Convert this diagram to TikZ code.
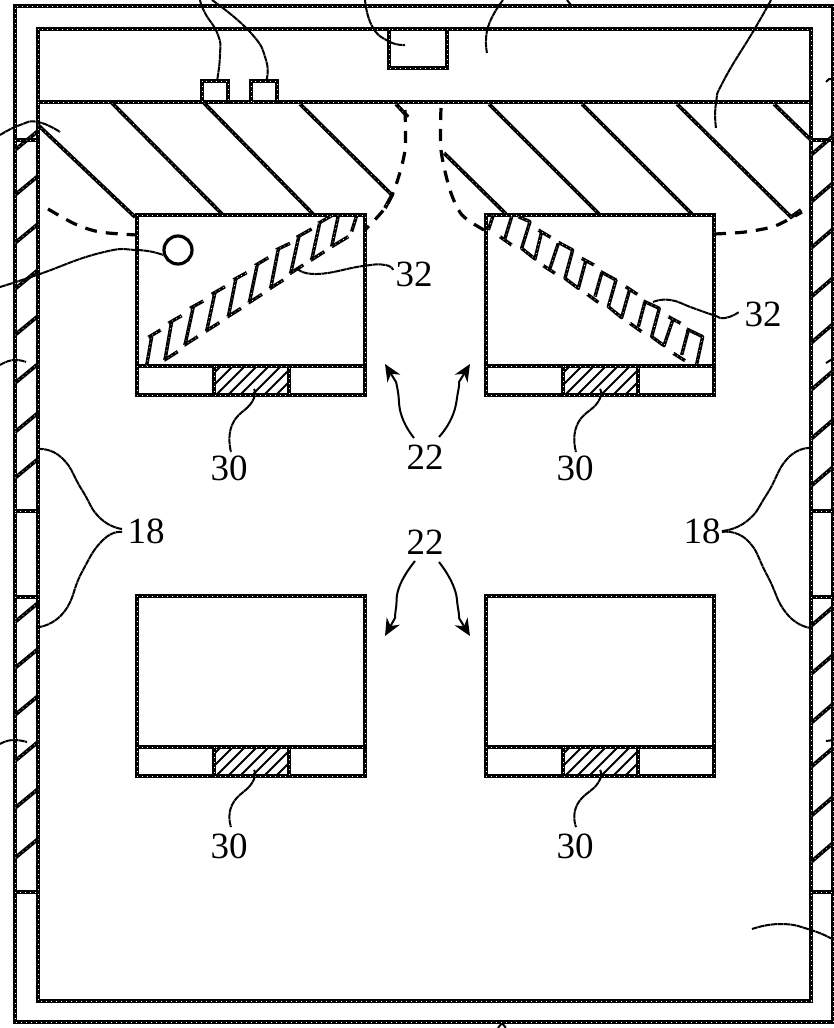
\documentclass[tikz,border=0pt]{standalone}
\usepackage{fontspec}
\setmainfont{Liberation Serif}
\usetikzlibrary{arrows.meta}
\tikzset{
  wall/.style={draw=black,line width=4.4pt,line cap=rect,
    postaction={draw=white,line width=1pt,dash pattern=on 1pt off 4pt,line cap=butt}},
  hatchline/.style={draw=black,line width=3.8pt,
    postaction={draw=white,line width=0.7pt,dash pattern=on 0.7pt off 4.3pt}},
  fin/.style={draw=black,line width=3.4pt,line join=round,
    postaction={draw=white,line width=0.7pt,dash pattern=on 0.7pt off 3.8pt}},
  leader/.style={draw=black,line width=2pt,dash pattern=on 6pt off 0.5pt},
  dashcurve/.style={draw=black,line width=3.2pt,dash pattern=on 12pt off 9pt},
  fine/.style={draw=black,line width=1.8pt},
  lbl/.style={font=\fontsize{37}{37}\selectfont,inner sep=0pt,text=black},
  tipleader/.style={draw=black,line width=2pt,-{Stealth[length=17pt,width=15pt]}},
}
\newcommand{\hvacunit}[3]{%
  % #1 left x, #2 top y, #3 name
  \coordinate (#3-nw) at (#1,#2);
  \draw[wall] (#1,#2) rectangle ++(228,180);
  \draw[wall] (#1,#2+151) -- ++(228,0);
  \begin{scope}
    \clip (#1+77,#2+151) rectangle ++(75,29);
    \foreach \k in {-2,...,8} {
      \draw[fine] (#1+77+12*\k,#2+182) -- ++(33,-33);
    }
  \end{scope}
  \draw[wall] (#1+77,#2+151) rectangle ++(75,29);
}
\begin{document}
\begin{tikzpicture}[x=1pt,y=-1pt]
\useasboundingbox (0,0) rectangle (834,1028);
\fill[white] (0,0) rectangle (834,1028);

% walls
\draw[wall] (833,6) -- (15,6) -- (15,1022) -- (833,1022);
\draw[wall] (833,6) -- (833,1022);
\draw[wall] (38,29) rectangle (811,1001);
\draw[wall] (38,102) -- (811,102);
\foreach \yy in {140,511,597,892} {
  \draw[wall] (15,\yy) -- (38,\yy);
  \draw[wall] (811,\yy) -- (833,\yy);
}
% wall hatching
\foreach \yy in {150,195,243,289,335,383,432,478,622,668,715,761,808,858} {
  \draw[hatchline] (15,\yy) -- (38,\yy-19);
}
\foreach \yy in {155,202,248,297,343,390,439,486,626,674,723,767,816,862} {
  \draw[hatchline] (811,\yy) -- (833,\yy-19);
}

% ceiling hatching
\draw[hatchline] (38,125) -- (135,217);
\draw[hatchline] (112,103) -- (222,214);
\draw[hatchline] (204,103) -- (313,214);
\draw[hatchline] (300,104) -- (392,195) -- (385,208);
\draw[hatchline] (396,104) -- (408,117);
\draw[hatchline] (444,153) -- (506,214);
\draw[hatchline] (489,104) -- (599,214);
\draw[hatchline] (582,104) -- (692,214);
\draw[hatchline] (677,104) -- (791,217) -- (801,210);
\draw[hatchline] (774,104) -- (811,140);

% top boxes
\draw[wall] (202,102) -- (202,81) -- (228,81) -- (228,102);
\draw[wall] (251,102) -- (251,81) -- (277,81) -- (277,102);
\draw[wall] (389,29) -- (389,68) -- (447,68) -- (447,29);

% units
\hvacunit{137}{215}{ua}
\hvacunit{486}{215}{ub}
\hvacunit{137}{596}{uc}
\hvacunit{486}{596}{ud}

% circle
\node[circle,draw=black,line width=3.2pt,minimum size=28pt,inner sep=0pt] (sensor) at (178,250) {};

% dashed air curves
\draw[dashcurve] plot[smooth] coordinates {(405,110) (405,150) (396,185) (385,208) (365,230)};
\draw[dashcurve] plot[smooth] coordinates {(441,108) (441,150) (450,190) (462,215) (484,230)};
\draw[dashcurve] plot[smooth] coordinates {(48,209) (75,224) (100,232) (137,235)};
\draw[dashcurve] plot[smooth] coordinates {(714,234) (745,232) (775,226) (802,212)};

% fins, left unit
\begin{scope}[shift={(130,205)},x=0.3333pt,y=-0.3333pt]
  \draw[fin] (50,482) -- (65,395); \draw[fin] (55,397) -- (92,375);
  \foreach \a/\b/\c/\d/\e/\f/\g/\h in {
    105/465/125/350/115/355/155/332,
    165/420/190/305/180/310/220/288,
    230/378/255/262/245/268/285/245,
    295/335/318/220/310/225/350/203,
    358/293/382/178/375/182/415/158,
    422/250/445/132/438/135/480/115,
    482/205/507/92/500/97/545/72,
    545/165/570/50/565/55/605/32} {
    \draw[fin] (\a,\b) -- (\c,\d);
    \draw[fin] (\e,\f) -- (\g,\h);
    \draw[fin] (\a-3,\b+1) -- (\a+38,\b-25);
  }
  \draw[fin] (605,125) -- (625,32);
  \draw[fin] (605,125) -- (655,95);
  \draw[fin] (665,80) -- (680,32);
\end{scope}

% fins, right unit
\begin{scope}[shift={(480,205)},x=0.3333pt,y=-0.3333pt]
  \draw[fin] (40,30) -- (25,75);
  \draw[fin] (95,35) -- (75,100); \draw[fin] (60,95) -- (95,120);
  \draw[fin] (115,35) -- (150,50) -- (125,130) -- (165,162) -- (185,80);
  \draw[fin] (175,75) -- (212,97);
  \draw[fin] (235,115) -- (210,190); \draw[fin] (190,182) -- (225,205);
  \draw[fin] (235,112) -- (278,135) -- (255,220) -- (295,250) -- (318,165);
  \draw[fin] (305,160) -- (342,180);
  \draw[fin] (365,205) -- (345,275); \draw[fin] (322,268) -- (355,292);
  \draw[fin] (362,200) -- (408,225) -- (385,305) -- (425,338) -- (450,250);
  \draw[fin] (437,245) -- (472,268);
  \draw[fin] (495,290) -- (475,365); \draw[fin] (450,355) -- (485,380);
  \draw[fin] (490,288) -- (538,310) -- (515,395) -- (552,422) -- (580,340);
  \draw[fin] (565,335) -- (602,355);
  \draw[fin] (625,375) -- (605,450); \draw[fin] (580,445) -- (615,467);
  \draw[fin] (620,372) -- (668,395) -- (650,478);
\end{scope}

% labels
\node[lbl] (l32a) at (414,274) {32};
\node[lbl] (l32b) at (763,314) {32};
\node[lbl] (l30a) at (229,468) {30};
\node[lbl] (l30b) at (575,468) {30};
\node[lbl] (l30c) at (229,846) {30};
\node[lbl] (l30d) at (575,846) {30};
\node[lbl] (l22a) at (425,457) {22};
\node[lbl] (l22b) at (425,542) {22};
\node[lbl] (l18a) at (146,531) {18};
\node[lbl] (l18b) at (702,531) {18};

% leaders to labels
\draw[leader] plot[smooth,tension=0.9] coordinates {(297,268) (317,274) (363,266) (385,265) (393,270)};
\draw[leader] plot[smooth,tension=0.9] coordinates {(653,302) (670,300) (693,308) (713,315) (725,318) (739,312)};
\draw[leader] plot[smooth,tension=0.9] coordinates {(254,389) (252,402) (232,425) (231,452)};
\draw[leader] plot[smooth,tension=0.9] coordinates {(600,389) (598,402) (577,425) (576,452)};
\draw[leader] plot[smooth,tension=0.9] coordinates {(254,770) (252,783) (232,805) (231,827)};
\draw[leader] plot[smooth,tension=0.9] coordinates {(600,770) (598,783) (577,805) (576,827)};
\draw[leader] plot[smooth,tension=0.9] coordinates {(122,529) (100,518) (82,490) (62,458) (39,449)};
\draw[leader] plot[smooth,tension=0.9] coordinates {(122,532) (103,540) (82,572) (64,612) (39,627)};
\draw[leader] plot[smooth,tension=0.9] coordinates {(722,531) (747,521) (767,494) (788,458) (811,448)};
\draw[leader] plot[smooth,tension=0.9] coordinates {(722,532) (747,540) (767,575) (787,614) (811,628)};
\draw[tipleader] plot[smooth,tension=0.9] coordinates {(414,438) (402,417) (398,392) (396,382)} -- (385,364);
\draw[tipleader] plot[smooth,tension=0.9] coordinates {(439,437) (452,417) (458,392) (459,382)} -- (470,364);
\draw[tipleader] plot[smooth,tension=0.9] coordinates {(415,561) (400,585) (396,608) (395,618)} -- (385,636);
\draw[tipleader] plot[smooth,tension=0.9] coordinates {(439,562) (453,585) (458,608) (459,618)} -- (470,636);

% cut-off leaders at the sheet edges
\draw[leader] plot[smooth,tension=0.9] coordinates {(200,0) (205,13) (218,35) (220,55) (217,81)};
\draw[leader] plot[smooth,tension=0.9] coordinates {(212,0) (250,32) (266,60) (266,81)};
\draw[leader] plot[smooth,tension=0.9] coordinates {(365,0) (372,26) (388,41) (405,45)};
\draw[leader] plot[smooth,tension=0.9] coordinates {(503,0) (488,27) (487,53)};
\draw[leader] (567,0) -- (571,5);
\draw[leader] plot[smooth,tension=0.9] coordinates {(771,0) (754,30) (724,80) (716,103) (716,128)};
\draw[leader] plot[smooth,tension=0.9] coordinates {(0,135) (20,125) (38,122) (60,132)};
\draw[leader] plot[smooth,tension=0.9] coordinates {(0,287) (37,275) (100,253) (137,250) (163,255)};
\draw[leader] plot[smooth,tension=0.9] coordinates {(0,365) (13,360) (26,362)};
\draw[leader] plot[smooth,tension=0.9] coordinates {(0,744) (12,740) (27,742)};
\draw[leader] (826,82) -- (829,79) -- (834,79);
\draw[leader] (826,363) -- (834,358);
\draw[leader] (826,741) -- (834,740);
\draw[leader] plot[smooth,tension=0.9] coordinates {(752,929) (781,924) (811,930) (834,940)};
\draw[leader] (498,1028) -- (502,1023) -- (506,1028);
\end{tikzpicture}
\end{document}
